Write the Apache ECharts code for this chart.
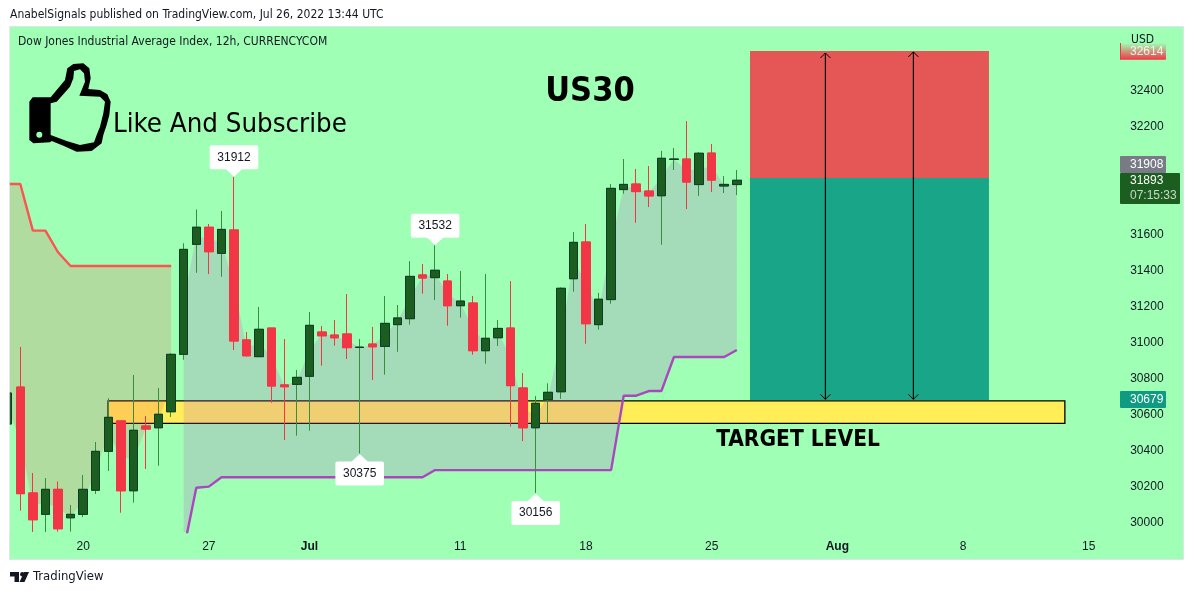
<!DOCTYPE html>
<html>
<head>
<meta charset="utf-8">
<style>html,body{margin:0;padding:0;background:#fff}#c{width:1194px;height:595px}</style>
<script src="https://cdn.jsdelivr.net/npm/echarts@6/dist/echarts.min.js"></script>
</head>
<body>
<div id="c"></div>
<script>
// [open, close, low, high] for each 12h bar
const ohlc = [
[30539,30711,30500,30760],[30744,30152,30057,30967],[30156,30007,29939,30267],[30037,30176,29939,30239],
[30176,29957,29941,30220],[30018,30037,29941,30089],[30037,30176,30022,30256],[30171,30387,30150,30439],
[30387,30576,30278,30682],[30556,30168,30046,30556],[30168,30504,30102,30811],[30528,30511,30289,30583],
[30518,30593,30307,30739],[30607,30926,30578,30933],[30926,31509,30896,31543],[31537,31632,31379,31731],
[31632,31496,31372,31650],[31487,31620,31357,31722],[31617,31000,30950,31912],[31006,30918,30913,31050],
[30913,31065,30913,31189],[31072,30750,30657,31072],[30756,30746,30450,31011],[30759,30798,30474,30839],
[30804,31087,30502,31161],[31050,31029,30863,31083],[31033,31018,30974,31117],[31039,30963,30900,31261],
[30964,30966,30375,31011],[30983,30968,30783,31078],[30970,31098,30813,31250],[31091,31128,30940,31200],
[31124,31359,31091,31444],[31367,31350,31263,31428],[31352,31393,31228,31532],[31333,31196,31085,31372],
[31196,31222,31130,31389],[31211,30946,30924,31250],[30946,31015,30874,31372],[31018,31070,30972,31117],
[31072,30752,30524,31333],[30739,30518,30444,30822],[30518,30654,30156,30694],[30674,30715,30543,30765],
[30718,31293,30679,31298],[31346,31548,31274,31606],[31550,31096,30985,31650],[31091,31232,31063,31267],
[31230,31848,31207,31872],[31841,31870,31818,32011],[31872,31830,31657,31956],[31833,31806,31744,31972],
[31807,32015,31535,32056],[32009,32011,31950,32072],[32011,31883,31733,32222],[31869,32043,31806,32050],
[32044,31894,31828,32094],[31861,31870,31822,31917],[31869,31893,31811,31950]
];
const bodyMid = [30625,30448,30082,30106,30066,30028,30106,30279,30481,30362,30336,30520,30556,30766,
31218,31585,31564,31553,31309,30962,30989,30911,30751,30778,30946,31040,31026,31001,30965,30976,31034,31110,
31242,31358,31372,31264,31209,31078,30980,31044,30912,30628,30586,30694,31005,31447,31323,31161,31539,31855,
31851,31819,31911,32010,31947,31956,31969,31865,31881];
const redLine = [31872,31872,31613,31613,31493,31417,31417,31417,31417,31417,31417,31417,31417,31417];
const purpleLine = [29840,30185,30191,30243,30243,30243,30243,30243,30243,30243,30243,30243,30243,30243,30243,30243,30243,30243,30243,30243,
30283,30283,30283,30283,30283,30283,30283,30283,30283,30283,30283,30283,30283,30283,30283,
30696,30696,30722,30722,30911,30911,30911,30911,30911,30950];
const tickIndex = [6,16,24,36,46,56,66,76,86];
const tickLabel = ['20','27','Jul','11','18','25','Aug','8','15'];
const priceTicks = [30000,30200,30400,30600,30800,31000,31200,31400,31600,32200,32400];
// bar index, price, direction (1 pointer down / -1 pointer up)
const callouts = [[18,31912,1],[34,31532,1],[28,30375,-1],[42,30156,-1]];
// drawings in bar units: [x0, x1, priceTop, priceBottom]
const targetZone = [7.98,84.1,30667,30542];
const riskZone = [59.05,78.06,32611,31906];
const rewardZone = [59.05,78.06,31906,30672];
const arrows = [[65.05,32600,30676],[72.05,32606,30676]];

const GRID_L = 1.45, GRID_W = 1118.73, GRID_T = 27, GRID_H = 505, N = 89;
const BG = '#9EFFB5';
const FONT = '"DejaVu Sans Condensed", "DejaVu Sans", sans-serif';
const NUMFONT = '"Liberation Sans Narrow", "Liberation Sans", sans-serif';
const categories = Array.from({length:N}, (_,i)=>{ const k=tickIndex.indexOf(i); return k>=0?tickLabel[k]:''; });
const bodies = ohlc.map(d=>[d[0],d[1],Math.min(d[0],d[1]),Math.max(d[0],d[1])]);
const purpleData = Array(14).fill(null).concat(purpleLine);

function band(upper, lower, start, color){
  return {type:'custom',coordinateSystem:'cartesian2d',xAxisIndex:0,yAxisIndex:0,z:3,clip:true,silent:true,data:[[start,0]],
    renderItem(p,api){
      const pts=[];
      upper.forEach((v,i)=>pts.push(api.coord([start+i,v])));
      for(let i=lower.length-1;i>=0;i--) pts.push(api.coord([start+i,lower[i]]));
      return {type:'polygon',shape:{points:pts},style:{fill:color}};
    }};
}
function rects(list,z,style){
  return {type:'custom',coordinateSystem:'cartesian2d',xAxisIndex:1,yAxisIndex:0,z,clip:false,silent:true,data:list,
    renderItem(p,api){
      const a=api.coord([api.value(0),api.value(2)]),b=api.coord([api.value(1),api.value(3)]);
      return {type:'rect',shape:{x:a[0],y:a[1],width:b[0]-a[0],height:b[1]-a[1]},style};
    }};
}
const option = {
  animation:false,
  backgroundColor:'transparent',
  grid:{left:GRID_L,top:GRID_T,width:GRID_W,height:GRID_H,containLabel:false},
  xAxis:[
    {type:'category',data:categories,boundaryGap:true,axisLine:{show:false},axisTick:{show:false},splitLine:{show:false},
      axisLabel:{interval:0,margin:9,color:'#131722',fontFamily:NUMFONT,fontSize:12,hideOverlap:false,
        formatter:v=>(v==='Jul'||v==='Aug')?'{b|'+v+'}':v,rich:{b:{fontWeight:'bold',color:'#131722',fontFamily:NUMFONT,fontSize:12}}}},
    {type:'value',show:false,min:-0.5,max:88.5,splitLine:{show:false}}
  ],
  yAxis:[{type:'value',position:'right',min:29939,max:32744.4,axisLine:{show:false},axisTick:{show:false},splitLine:{show:false},
    axisLabel:{margin:10,color:'#131722',fontFamily:NUMFONT,fontSize:12,customValues:priceTicks,formatter:v=>'{a|'+v+'}',
      rich:{a:{padding:[3,0,0,0],color:'#131722',fontFamily:NUMFONT,fontSize:12}}}}],
  series:[
    rects([targetZone],2,{fill:'#FFEE58',stroke:'#000',lineWidth:1.3}),
    band(redLine,bodyMid.slice(0,14),0,'rgba(255,82,82,0.2)'),
    band(bodyMid.slice(14),purpleLine,14,'rgba(188,104,200,0.23)'),
    rects([riskZone],3,{fill:'#E55757'}),
    rects([rewardZone],3,{fill:'#18A588'}),
    {type:'line',data:redLine,z:4,showSymbol:false,silent:true,lineStyle:{color:'#FF5252',width:2.4}},
    {type:'line',data:purpleData,z:4,showSymbol:false,silent:true,lineStyle:{color:'#AB47BC',width:2.4}},
    {type:'candlestick',name:'Wicks',data:ohlc,z:5,barWidth:9,silent:true,
      itemStyle:{color:'#1B5E20',color0:'#F23645',borderColor:'#388E3C',borderColor0:'#F23645',borderWidth:1}},
    {type:'candlestick',name:'Bodies',data:bodies,z:6,barWidth:9,silent:true,
      itemStyle:{color:'#1B5E20',color0:'#F23645',borderColor:'#0E3B2A',borderColor0:'#F23645',borderWidth:1}},
    {type:'custom',coordinateSystem:'cartesian2d',xAxisIndex:1,yAxisIndex:0,z:7,clip:false,silent:true,data:arrows,
      renderItem(p,api){
        const t=api.coord([api.value(0),api.value(1)]),b=api.coord([api.value(0),api.value(2)]);
        const ln={stroke:'#000',lineWidth:1.2,fill:null};
        return {type:'group',children:[
          {type:'line',shape:{x1:t[0],y1:t[1],x2:b[0],y2:b[1]},style:ln},
          {type:'polyline',shape:{points:[[t[0]-5,t[1]+5],[t[0],t[1]],[t[0]+5,t[1]+5]]},style:{stroke:'#000',lineWidth:1,fill:null}},
          {type:'polyline',shape:{points:[[b[0]-5,b[1]-5],[b[0],b[1]],[b[0]+5,b[1]-5]]},style:{stroke:'#000',lineWidth:1,fill:null}}
        ]};
      }},
    {type:'custom',coordinateSystem:'cartesian2d',xAxisIndex:0,yAxisIndex:0,z:8,clip:false,silent:true,data:callouts,
      renderItem(p,api){
        const idx=api.value(0),price=api.value(1),dir=api.value(2);
        const c=api.coord([idx,price]),x=c[0],y=c[1]+(dir>0?0:0.5);
        const boxH=24,neck=7.5,w=48.6;
        const top=dir>0?y-neck-boxH:y+neck;
        return {type:'group',children:[
          {type:'polygon',shape:{points:[[x,y],[x-9,y-dir*neck-dir*1],[x+9,y-dir*neck-dir*1]]},style:{fill:'#fff'}},
          {type:'rect',shape:{x:x-w/2,y:top,width:w,height:boxH,r:2},style:{fill:'#fff'}},
          {type:'text',style:{text:String(price),x:x,y:top+boxH/2,align:'center',verticalAlign:'middle',fill:'#131722',font:'12px '+NUMFONT}}
        ]};
      }}
  ],
  graphic:[]
};

// page furniture in pixels
const scale=(pts)=>pts.map(p=>[20+p[0]/3,55+p[1]/3]);
const thumbOuter=scale([[28,140],[38,127],[92,127],[135,75],[142,40],[160,27],[190,25],[208,40],[212,70],[205,102],[240,105],[262,118],[272,140],[268,180],[260,210],[250,240],[245,265],[215,288],[170,290],[130,272],[95,258],[90,262],[40,265],[28,255]]);
const thumbInner=scale([[92,145],[110,140],[150,95],[160,70],[162,48],[180,43],[192,55],[195,80],[178,122],[240,125],[255,140],[250,175],[240,215],[230,240],[222,262],[180,270],[140,258],[92,240]]);
const txt=(t,x,y,o)=>({type:'text',z:50,silent:true,x,y,style:Object.assign({text:t,fill:'#131722',font:'12px '+FONT,verticalAlign:'middle'},o||{})});
const num=(t,x,y,fill)=>txt(t,x,y,{font:'12px '+NUMFONT,fill});
const box=(x,y,w,h,fill,z,extra)=>({type:'rect',z:z||40,silent:true,shape:{x,y,width:w,height:h,r:(extra&&extra.r)||0},style:Object.assign({fill},extra&&extra.style||{})});
option.graphic=[
  {type:'rect',z:-10,silent:true,shape:{x:9.5,y:26.5,width:1174,height:533},style:{fill:BG,stroke:'#E0E3EB',lineWidth:1}},
  box(0,27,9.5,506,'#fff',60),
  {type:'rect',z:61,silent:true,shape:{x:9.5,y:27,width:0.5,height:506},style:{fill:'#E0E3EB'}},
  txt('AnabelSignals published on TradingView.com, Jul 26, 2022 13:44 UTC',10,15),
  txt('Dow Jones Industrial Average Index, 12h, CURRENCYCOM',18,42),
  {type:'polygon',z:30,silent:true,shape:{points:thumbOuter},style:{fill:'#000'}},
  {type:'polygon',z:31,silent:true,shape:{points:thumbInner},style:{fill:BG}},
  {type:'circle',z:31,silent:true,shape:{cx:39.3,cy:134.7,r:3},style:{fill:BG}},
  txt('Like And Subscribe',113,125,{fill:'#000',font:'27.4px '+FONT}),
  txt('US30',590,92.5,{fill:'#000',font:'bold 34px '+FONT,align:'center'}),
  txt('TARGET LEVEL',798,440,{fill:'#000',font:'bold 22.5px '+FONT,align:'center'}),
  txt('USD',1131,40),
  {type:'rect',z:40,silent:true,shape:{x:1120,y:43,width:46,height:16.7,r:1},
    style:{fill:{type:'linear',x:0,y:0,x2:0,y2:1,colorStops:[{offset:0,color:'rgba(242,54,69,0)'},{offset:1,color:'rgba(242,54,69,1)'}]}}},
  box(1120,43,1,16.7,'#F23645',41),
  num('32614',1130,52,'rgba(255,255,255,0.85)'),
  box(1120,156,46,17,'#787B86',40,{r:1}),
  num('31908',1130,164.5,'#fff'),
  box(1120,173,60,31,'#1B5E20',41,{r:1}),
  num('31893',1130,181,'#fff'),
  num('07:15:33',1130,196,'rgba(255,255,255,0.75)'),
  box(1120,391,46,17,'#0F9B82',40,{r:1}),
  num('30679',1130,399.5,'#fff'),
  {type:'rect',z:50,silent:true,shape:{x:10,y:572,width:9,height:4.5},style:{fill:'#131722'}},
  {type:'rect',z:50,silent:true,shape:{x:14.5,y:572,width:4.5,height:10},style:{fill:'#131722'}},
  {type:'circle',z:50,silent:true,shape:{cx:22.3,cy:574.2,r:2.2},style:{fill:'#131722'}},
  {type:'polygon',z:50,silent:true,shape:{points:[[29,572],[24.5,582],[19.5,582],[24.2,572]]},style:{fill:'#131722'}},
  txt('TradingView',33,577,{font:'13px '+FONT,fill:'#131722'})
];
const chart = echarts.init(document.getElementById('c'),null,{renderer:'canvas'});
chart.setOption(option);
</script>
</body>
</html>
